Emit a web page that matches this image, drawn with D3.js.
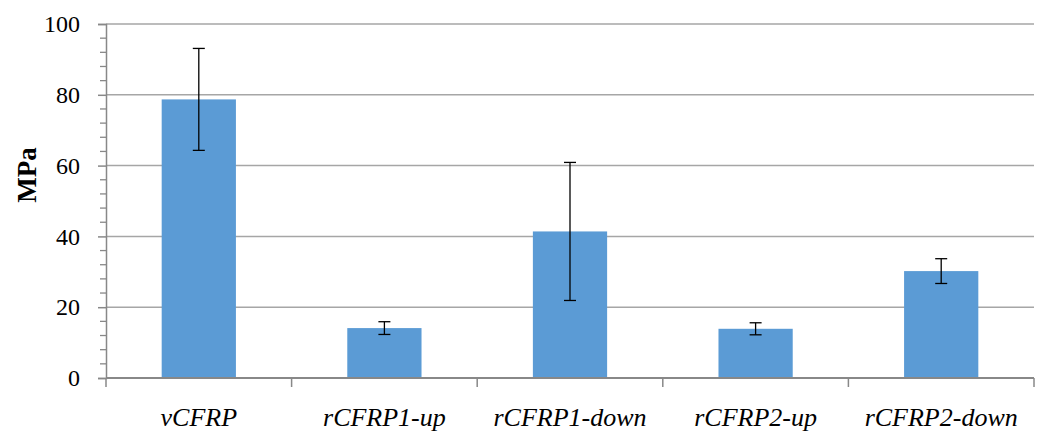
<!DOCTYPE html>
<html>
<head>
<meta charset="utf-8">
<script src="https://cdn.jsdelivr.net/npm/d3@7"></script>
<style>
  body { margin: 0; background: #fff; }
  text { font-family: "Liberation Serif", "DejaVu Serif", serif; }
</style>
</head>
<body>
<script>
// Data
var categories = ["vCFRP", "rCFRP1-up", "rCFRP1-down", "rCFRP2-up", "rCFRP2-down"];
var values = [78.7, 14.1, 41.4, 13.9, 30.2];
var errors = [14.4, 1.8, 19.5, 1.7, 3.5];
var yTicks = [0, 20, 40, 60, 80, 100];

var margin = {top: 24, right: 11, bottom: 54, left: 106},
    width = 1045 - margin.left - margin.right,
    height = 432 - margin.top - margin.bottom;

var svg = d3.select("body").append("svg")
    .attr("width", 1045)
    .attr("height", 432)
  .append("g")
    .attr("transform", "translate(" + margin.left + "," + margin.top + ")");

var x = d3.scaleBand().domain(categories).range([0, width]).paddingInner(0.6).paddingOuter(0.3);
var y = d3.scaleLinear().domain([0, 100]).range([height, 0]);

// Gridlines
svg.append("g")
  .selectAll("line")
  .data(yTicks.slice(1))
  .enter().append("line")
    .attr("x1", 0).attr("x2", width)
    .attr("y1", function(d) { return y(d); })
    .attr("y2", function(d) { return y(d); })
    .attr("stroke", "#a6a6a6")
    .attr("stroke-width", 1.5);

// Bars
svg.selectAll(".bar")
  .data(values)
  .enter().append("rect")
    .attr("class", "bar")
    .attr("x", function(d, i) { return x(categories[i]); })
    .attr("width", x.bandwidth())
    .attr("y", function(d) { return y(d); })
    .attr("height", function(d) { return height - y(d); })
    .attr("fill", "#5b9bd5");

// Error bars
var err = svg.append("g").selectAll("g")
  .data(values)
  .enter().append("g")
    .attr("transform", function(d, i) { return "translate(" + (x(categories[i]) + x.bandwidth() / 2) + ",0)"; });

err.append("line")
    .attr("y1", function(d, i) { return y(d + errors[i]); })
    .attr("y2", function(d, i) { return y(d - errors[i]); })
    .attr("stroke", "#000").attr("stroke-width", 1.3);
err.append("line")
    .attr("x1", -6).attr("x2", 6)
    .attr("y1", function(d, i) { return y(d + errors[i]); })
    .attr("y2", function(d, i) { return y(d + errors[i]); })
    .attr("stroke", "#000").attr("stroke-width", 1.3);
err.append("line")
    .attr("x1", -6).attr("x2", 6)
    .attr("y1", function(d, i) { return y(d - errors[i]); })
    .attr("y2", function(d, i) { return y(d - errors[i]); })
    .attr("stroke", "#000").attr("stroke-width", 1.3);

// Minor y ticks
svg.append("g")
  .selectAll("line")
  .data(d3.range(0, 101, 4).filter(function(d) { return d % 20 !== 0; }))
  .enter().append("line")
    .attr("x1", -6).attr("x2", 0)
    .attr("y1", function(d) { return y(d); })
    .attr("y2", function(d) { return y(d); })
    .attr("stroke", "#888").attr("stroke-width", 1.3);

// Y axis
var yAxis = svg.append("g")
    .call(d3.axisLeft(y).tickValues(yTicks).tickSize(8).tickPadding(18))
    .attr("font-family", "Liberation Serif")
    .attr("font-size", 24);
yAxis.select(".domain").attr("stroke", "#888").attr("stroke-width", 1.5);
yAxis.selectAll(".tick line").attr("stroke", "#888").attr("stroke-width", 1.5);
yAxis.selectAll(".tick text").attr("fill", "#000");

// X axis with category separators
var xAxis = svg.append("g")
    .attr("transform", "translate(0," + height + ")");
xAxis.append("line")
    .attr("x1", 0).attr("x2", width)
    .attr("stroke", "#888").attr("stroke-width", 2);
xAxis.selectAll(".sep")
  .data(d3.range(categories.length + 1))
  .enter().append("line")
    .attr("x1", function(i) { return i * width / categories.length; })
    .attr("x2", function(i) { return i * width / categories.length; })
    .attr("y1", 0).attr("y2", 9)
    .attr("stroke", "#888").attr("stroke-width", 1.5);
xAxis.selectAll(".lbl")
  .data(categories)
  .enter().append("text")
    .attr("x", function(d) { return x(d) + x.bandwidth() / 2; })
    .attr("y", 48)
    .attr("text-anchor", "middle")
    .attr("font-size", "26px")
    .attr("font-style", "italic")
    .text(function(d) { return d; });

// Y axis title
svg.append("text")
    .attr("transform", "translate(-70," + (175 - margin.top) + ") rotate(-90)")
    .attr("text-anchor", "middle")
    .attr("font-size", "27px")
    .attr("font-weight", "bold")
    .text("MPa");
</script>
</body>
</html>
